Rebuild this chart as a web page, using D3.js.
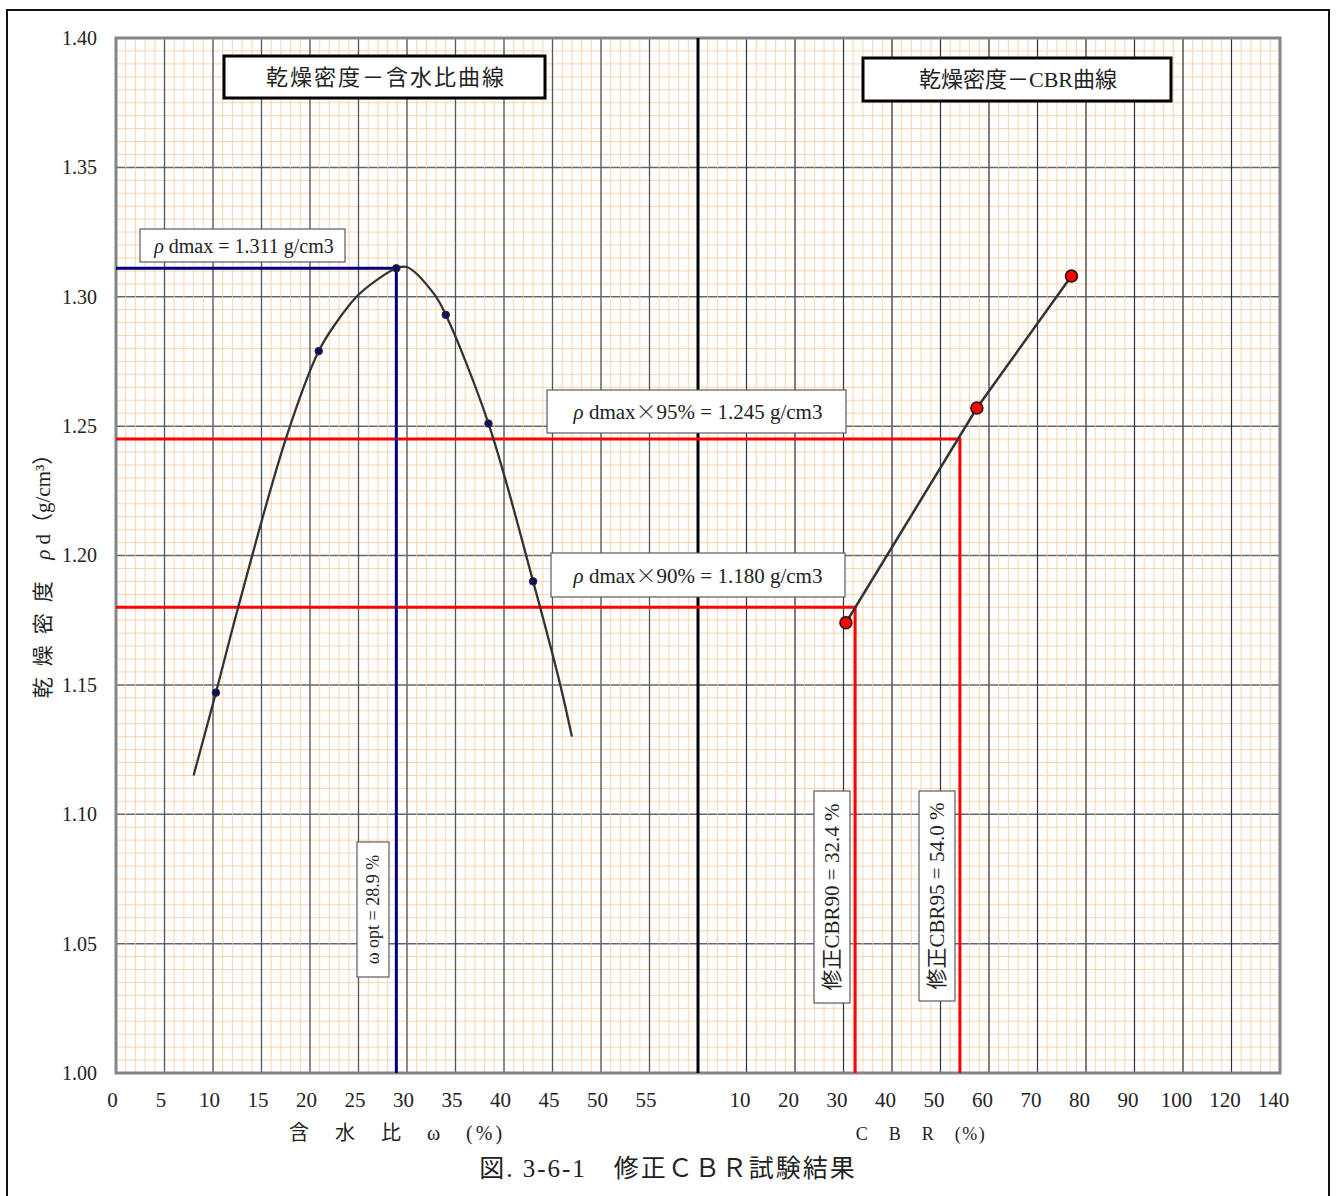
<!DOCTYPE html>
<html>
<head>
<meta charset="utf-8">
<script src="https://cdn.jsdelivr.net/npm/d3@7"></script>
<style>
  body { margin: 0; background: #fff; }
  svg text { font-family: "Liberation Serif", "Noto Sans CJK JP", serif; fill: #222; }
</style>
</head>
<body>
<svg id="chart" width="1336" height="1196"></svg>
<script>
// tick labels
var yTicks = [1.00, 1.05, 1.10, 1.15, 1.20, 1.25, 1.30, 1.35, 1.40];
var wTicks = [0, 5, 10, 15, 20, 25, 30, 35, 40, 45, 50, 55];
var cbrTicks = [10, 20, 30, 40, 50, 60, 70, 80, 90, 100, 120, 140];

// compaction test points (water content %, dry density g/cm3)
var wPoints = [10.3, 20.9, 28.9, 34.0, 38.4, 43.0];
var rhoPoints = [1.147, 1.279, 1.311, 1.293, 1.251, 1.190];

// hand drawn compaction curve
var curveW = [8.0, 10.3, 12.6, 17.5, 20.9, 22.8, 24.8, 26.9, 28.9, 30.0, 32.8, 34.0, 38.4, 43.0, 45.8, 47.0];
var curveRho = [1.115, 1.147, 1.180, 1.245, 1.279, 1.2905, 1.300, 1.3065, 1.311, 1.3115, 1.301, 1.293, 1.251, 1.190, 1.150, 1.130];

// CBR points (CBR %, dry density)
var cbrPoints = [30.5, 57.5, 77.0];
var cbrRho = [1.174, 1.257, 1.308];

// results
var rhoMax = 1.311, wOpt = 28.9;
var rho95 = 1.245, rho90 = 1.180;
var cbr95 = 54.0, cbr90 = 32.4;

(function() {
var svg = d3.select('#chart');

var pL = 116, pR = 1280, pT = 38, pB = 1073, mid = 698, cell = 48.5;

var y = d3.scaleLinear().domain([1.0, 1.4]).range([pB, pT]);
var xW = d3.scaleLinear().domain([0, 60]).range([pL, mid]);
// CBR sheet is linear to 100, then 20 per cell
var xC = d3.scaleLinear().domain([0, 100, 120, 140])
    .range([mid, mid + 10 * cell, mid + 11 * cell, pR]);

// outer frame
svg.append('rect')
    .attr('x', 7).attr('y', 10).attr('width', 1322).attr('height', 1210)
    .attr('fill', 'none').attr('stroke', '#111').attr('stroke-width', 2);

var grid = svg.append('g');

// major horizontal lines
grid.selectAll('.hmaj')
    .data(yTicks.slice(1, -1))
    .enter().append('line')
    .attr('x1', pL).attr('x2', pR)
    .attr('y1', d => y(d)).attr('y2', d => y(d))
    .attr('stroke', '#666').attr('stroke-width', 1.5);

// minor orange lines
var minorW = d3.range(1, 60);
var minorC = d3.range(2, 100, 2).concat(d3.range(100, 140, 4));
var minorY = d3.range(1, 80).filter(i => i % 10 !== 0).map(i => 1 + i * 0.005);
var orange = '#fbcca2';

grid.selectAll('.vminW')
    .data(minorW)
    .enter().append('line')
    .attr('x1', d => xW(d)).attr('x2', d => xW(d))
    .attr('y1', pT).attr('y2', pB)
    .attr('stroke', orange).attr('stroke-opacity', 0.85).attr('stroke-width', 1);
grid.selectAll('.vminC')
    .data(minorC)
    .enter().append('line')
    .attr('x1', d => xC(d)).attr('x2', d => xC(d))
    .attr('y1', pT).attr('y2', pB)
    .attr('stroke', orange).attr('stroke-opacity', 0.85).attr('stroke-width', 1);
grid.selectAll('.hmin')
    .data(minorY)
    .enter().append('line')
    .attr('x1', pL).attr('x2', pR)
    .attr('y1', d => y(d)).attr('y2', d => y(d))
    .attr('stroke', orange).attr('stroke-opacity', 0.85).attr('stroke-width', 1);

// major vertical lines
grid.selectAll('.vmajW')
    .data(wTicks.slice(1))
    .enter().append('line')
    .attr('x1', d => xW(d)).attr('x2', d => xW(d))
    .attr('y1', pT).attr('y2', pB)
    .attr('stroke', '#555').attr('stroke-width', 1.3);
grid.selectAll('.vmajC')
    .data(cbrTicks.slice(0, -1))
    .enter().append('line')
    .attr('x1', d => xC(d)).attr('x2', d => xC(d))
    .attr('y1', pT).attr('y2', pB)
    .attr('stroke', '#333').attr('stroke-width', 1.2);

// plot border and the divider between the two sheets
svg.append('rect')
    .attr('x', pL).attr('y', pT)
    .attr('width', pR - pL).attr('height', pB - pT)
    .attr('fill', 'none').attr('stroke', '#858585').attr('stroke-width', 3);
svg.append('line')
    .attr('x1', mid).attr('x2', mid).attr('y1', pT).attr('y2', pB)
    .attr('stroke', '#000').attr('stroke-width', 3);

// 95% / 90% lines
svg.append('path')
    .attr('d', 'M' + pL + ',' + y(rho95) + 'H' + xC(cbr95) + 'V' + pB)
    .attr('fill', 'none').attr('stroke', '#ff0000').attr('stroke-width', 3);
svg.append('path')
    .attr('d', 'M' + pL + ',' + y(rho90) + 'H' + xC(cbr90) + 'V' + pB)
    .attr('fill', 'none').attr('stroke', '#ff0000').attr('stroke-width', 3);

// max density / optimum water content
svg.append('path')
    .attr('d', 'M' + pL + ',' + y(rhoMax) + 'H' + xW(wOpt) + 'V' + pB)
    .attr('fill', 'none').attr('stroke', '#00007a').attr('stroke-width', 3);

// compaction curve
var curveLine = d3.line()
    .x(d => xW(d[0]))
    .y(d => y(d[1]))
    .curve(d3.curveCatmullRom.alpha(0.5));
svg.append('path')
    .datum(d3.zip(curveW, curveRho))
    .attr('d', curveLine)
    .attr('fill', 'none').attr('stroke', '#333').attr('stroke-width', 2.3);

svg.selectAll('.wpt')
    .data(d3.zip(wPoints, rhoPoints))
    .enter().append('circle')
    .attr('cx', d => xW(d[0])).attr('cy', d => y(d[1]))
    .attr('r', 3.8)
    .attr('fill', '#0d0d5e').attr('stroke', '#333').attr('stroke-width', 1);

// CBR line
var cbrLine = d3.line()
    .x(d => xC(d[0]))
    .y(d => y(d[1]));
svg.append('path')
    .datum(d3.zip(cbrPoints, cbrRho))
    .attr('d', cbrLine)
    .attr('fill', 'none').attr('stroke', '#333').attr('stroke-width', 2.5);

svg.selectAll('.cpt')
    .data(d3.zip(cbrPoints, cbrRho))
    .enter().append('circle')
    .attr('cx', d => xC(d[0])).attr('cy', d => y(d[1]))
    .attr('r', 6)
    .attr('fill', '#ff0000').attr('stroke', '#111').attr('stroke-width', 1.5);

// axes
var yAxis = svg.append('g')
    .attr('transform', 'translate(' + pL + ',0)')
    .call(d3.axisLeft(y).tickValues(yTicks).tickFormat(d3.format('.2f')).tickSize(0).tickPadding(19));
var wAxis = svg.append('g')
    .attr('transform', 'translate(0,' + pB + ')')
    .call(d3.axisBottom(xW).tickValues(wTicks).tickFormat(d3.format('d')).tickSize(0).tickPadding(19));
var cAxis = svg.append('g')
    .attr('transform', 'translate(0,' + pB + ')')
    .call(d3.axisBottom(xC).tickValues(cbrTicks).tickFormat(d3.format('d')).tickSize(0).tickPadding(19));

[yAxis, wAxis, cAxis].forEach(function(a) {
    a.select('.domain').remove();
    a.selectAll('text')
        .attr('fill', '#222')
        .style('font-family', '"Liberation Serif", serif');
});
yAxis.selectAll('text').style('font-size', '20px');
wAxis.selectAll('text').style('font-size', '21px').attr('dx', -4);
cAxis.selectAll('text').style('font-size', '21px').attr('dx', -7);

// axis titles
svg.append('text')
    .attr('x', 397).attr('y', 1140)
    .attr('text-anchor', 'middle')
    .style('font-size', '20px').style('letter-spacing', '3px').attr('fill', '#444')
    .text('含　水　比　ω　(%)');
svg.append('text')
    .attr('x', 921).attr('y', 1140)
    .attr('text-anchor', 'middle')
    .style('font-size', '18px').style('letter-spacing', '1.5px').attr('fill', '#444')
    .text('C　B　R　(%)');

var yTitle = svg.append('text')
    .attr('transform', 'translate(50,571) rotate(-90)')
    .attr('text-anchor', 'middle')
    .style('font-size', '21px').attr('fill', '#444');
yTitle.append('tspan').style('letter-spacing', '11px').text('乾燥密度');
yTitle.append('tspan').style('font-style', 'italic').text('\u2002ρ');
yTitle.append('tspan').text(' d（g/cm³）');

svg.append('text')
    .attr('x', 668).attr('y', 1177)
    .attr('text-anchor', 'middle')
    .style('font-size', '25px').style('letter-spacing', '2px')
    .text('図. 3-6-1　修正ＣＢＲ試験結果');

// label boxes
function box(x, yy, w, h, heavy) {
    return svg.append('rect')
        .attr('x', x).attr('y', yy).attr('width', w).attr('height', h)
        .attr('fill', '#fff')
        .attr('stroke', heavy ? '#000' : '#5a5a5a')
        .attr('stroke-width', heavy ? 3 : 1.2);
}

box(224, 56, 321, 42, true);
svg.append('text')
    .attr('x', 386).attr('y', 77).attr('dy', '0.35em')
    .attr('text-anchor', 'middle')
    .style('font-size', '22px').style('letter-spacing', '2px')
    .text('乾燥密度－含水比曲線');

box(863, 58, 308, 43, true);
svg.append('text')
    .attr('x', 1018).attr('y', 79).attr('dy', '0.35em')
    .attr('text-anchor', 'middle')
    .style('font-size', '22px')
    .text('乾燥密度－CBR曲線');

box(140, 229, 205, 33, false);
var tMax = svg.append('text')
    .attr('x', 244).attr('y', 246).attr('dy', '0.35em')
    .attr('text-anchor', 'middle')
    .style('font-size', '20px').attr('fill', '#333');
tMax.append('tspan').style('font-style', 'italic').text('ρ');
tMax.append('tspan').text(' dmax = ' + rhoMax.toFixed(3) + ' g/cm3');

function pctLabel(cx, cy, pct, val) {
    var t = svg.append('text')
        .attr('x', cx).attr('y', cy).attr('dy', '0.35em')
        .attr('text-anchor', 'middle')
        .style('font-size', '21px').attr('fill', '#333');
    t.append('tspan').style('font-style', 'italic').text('ρ');
    t.append('tspan').text(' dmax');
    t.append('tspan').style('font-family', '"Noto Sans CJK JP"').style('font-weight', 300).text('×');
    t.append('tspan').text(pct + '% = ' + val.toFixed(3) + ' g/cm3');
}
box(547, 390, 299, 43, false);
pctLabel(698, 412, 95, rho95);
box(551, 553, 294, 44, false);
pctLabel(698, 576, 90, rho90);

function vLabel(x, yy, w, h, size, txt) {
    box(x, yy, w, h, false);
    svg.append('text')
        .attr('transform', 'translate(' + (x + w / 2) + ',' + (yy + h / 2) + ') rotate(-90)')
        .attr('dy', '0.35em')
        .attr('text-anchor', 'middle')
        .style('font-size', size + 'px').attr('fill', '#333')
        .text(txt);
}
vLabel(357, 842, 32, 135, 18, 'ω opt = ' + wOpt.toFixed(1) + ' %');
vLabel(814, 791, 36, 212, 21, '修正CBR90 = ' + cbr90.toFixed(1) + ' %');
vLabel(919, 791, 36, 210, 21, '修正CBR95 = ' + cbr95.toFixed(1) + ' %');
})();
</script>
</body>
</html>
